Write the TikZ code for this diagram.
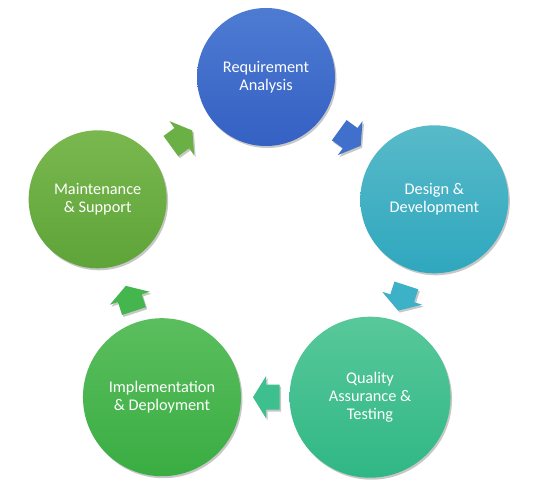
\documentclass[tikz,border=0pt]{standalone}
\usepackage{fontspec}
\setmainfont{Carlito}
\usetikzlibrary{shadows}

\definecolor{reqtop}{HTML}{4E7BD2}
\definecolor{reqbot}{HTML}{3461C3}
\definecolor{designtop}{HTML}{58BAC9}
\definecolor{designbot}{HTML}{2FA7BE}
\definecolor{qatop}{HTML}{58C89A}
\definecolor{qabot}{HTML}{30B785}
\definecolor{impltop}{HTML}{5BBE5E}
\definecolor{implbot}{HTML}{39AD42}
\definecolor{mainttop}{HTML}{7AB84F}
\definecolor{maintbot}{HTML}{5EA438}
\definecolor{reqarrow}{HTML}{4070CB}
\definecolor{designarrow}{HTML}{3DB1C8}
\definecolor{qaarrow}{HTML}{3EBF8E}
\definecolor{implarrow}{HTML}{45B64D}
\definecolor{maintarrow}{HTML}{6AB044}

\begin{document}
\begin{tikzpicture}[
        x=1bp, y=1bp,
        softshadow/.style={drop shadow={shadow xshift=1.5bp, shadow yshift=-2bp,
            fill=black, opacity=0.22}},
        stage/.style={circle, draw=none, inner sep=0pt, align=center,
            text=white, font=\fontsize{16.3bp}{18bp}\selectfont, softshadow},
        cyclearrow/.pic={
            \path[pic actions, softshadow] (-13.5,-12.5) -- (0,-12.5) -- (0,-21)
                -- (13,0) -- (0,21) -- (0,12.5) -- (-13.5,12.5) -- cycle;
        }
    ]

        \useasboundingbox (0,0) rectangle (540,491);
        \fill[white] (0,0) rectangle (540,491);

        % Centre of the cycle
        \coordinate (hub) at (266,237);

        % Stages
        \node[stage, minimum size=138bp, top color=reqtop, bottom color=reqbot]
            (req) at ([shift={(90:177)}]hub) {Requirement\\Analysis};
        \node[stage, minimum size=148bp, top color=designtop, bottom color=designbot]
            (design) at ([shift={(18:177)}]hub) {Design \&\\Development};
        \node[stage, minimum size=161bp, top color=qatop, bottom color=qabot]
            (qa) at ([shift={(-54:177)}]hub) {Quality\\Assurance \&\\Testing};
        \node[stage, minimum size=158bp, top color=impltop, bottom color=implbot]
            (impl) at ([shift={(-126:177)}]hub) {Implementation\\\& Deployment};
        \node[stage, minimum size=138bp, top color=mainttop, bottom color=maintbot]
            (maint) at ([shift={(162:177)}]hub) {Maintenance\\\& Support};

        % Block arrows between the stages
        \foreach \from/\to/\tint in {req/design/reqarrow, design/qa/designarrow,
                qa/impl/qaarrow, impl/maint/implarrow, maint/req/maintarrow}
            \path (\from.center) -- (\to.center)
                pic[pos=0.5, sloped, allow upside down, fill=\tint] {cyclearrow};

    \end{tikzpicture}
\end{document}
